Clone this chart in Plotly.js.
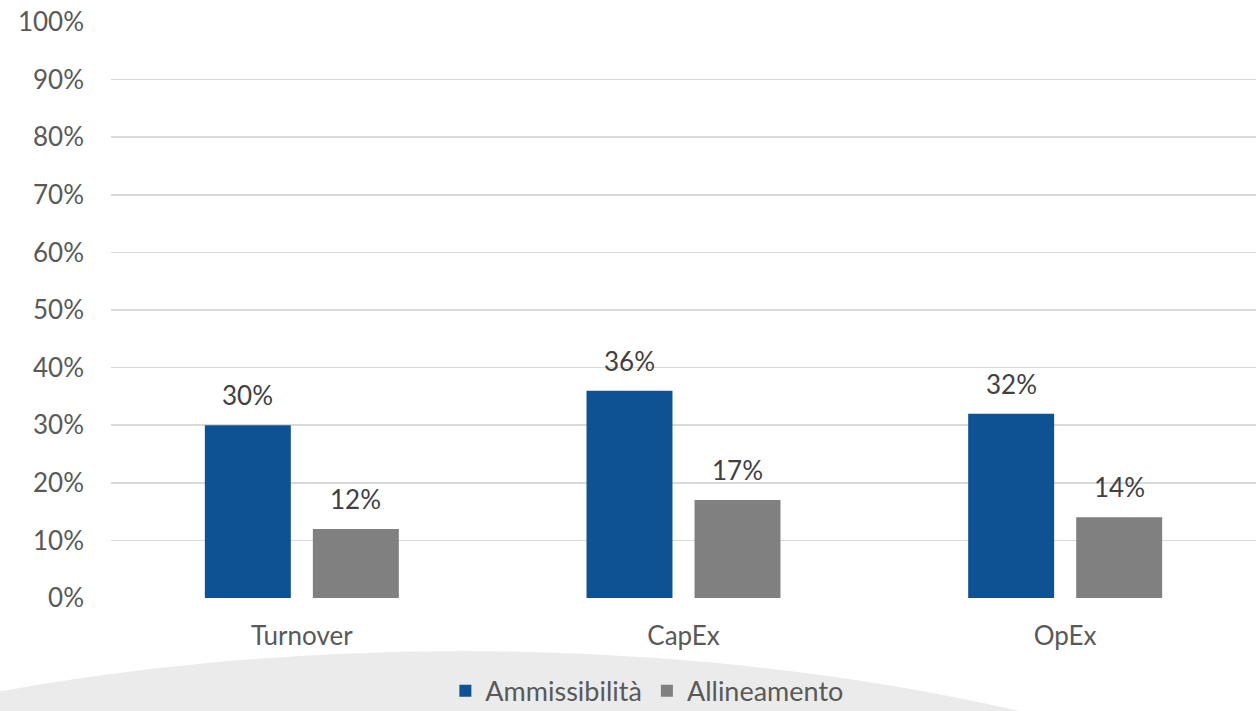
<!DOCTYPE html>
<html><head><meta charset="utf-8">
<script src="https://cdn.plot.ly/plotly-3.0.1.min.js"></script>
<style>html,body{margin:0;padding:0;background:#fff;}#chart{width:1258px;height:711px;}</style>
</head><body><div id="chart"></div>
<script>
const categories = ["Turnover", "CapEx", "OpEx"];
const ammissibilita = [30, 36, 32];
const allineamento = [12, 17, 14];
const seriesNames = ["Ammissibilità", "Allineamento"];
const yTickVals = [0,10,20,30,40,50,60,70,80,90,100];
const yTickText = ["0%","10%","20%","30%","40%","50%","60%","70%","80%","90%","100%"];

const FONT = "Lato, 'Open Sans', sans-serif";
const colors = ["#0F5294", "#808080"];
const seriesVals = [ammissibilita, allineamento];

const traces = seriesVals.map((vals, i) => ({
  type: "bar", name: seriesNames[i], x: categories, y: vals,
  marker: {color: colors[i]}, hoverinfo: "skip"
}));

const annotations = [];
seriesVals.forEach((vals, i) => {
  vals.forEach((v, j) => {
    annotations.push({
      x: categories[j], y: v, xref: "x", yref: "y",
      text: v + "%", showarrow: false, yanchor: "bottom",
      xshift: i === 0 ? -54 : 54, yshift: 12,
      font: {family: FONT, size: 26, color: "#404040"}
    });
  });
});

const layout = {
  width: 1258, height: 711,
  margin: {l: 111, r: 2, t: 22, b: 113, autoexpand: false},
  paper_bgcolor: "#fff", plot_bgcolor: "rgba(0,0,0,0)",
  barmode: "group", bargap: 0.434, bargroupgap: 0.204,
  font: {family: FONT, color: "#595959"},
  xaxis: {
    showgrid: false, zeroline: false, showline: false, ticks: "",
    tickfont: {family: FONT, size: 26, color: "#595959"}, ticklabelstandoff: 20
  },
  yaxis: {
    range: [0, 100], tickvals: yTickVals, ticktext: yTickText,
    showgrid: true, gridcolor: "#d9d9d9", gridwidth: 1.5,
    zeroline: false, showline: false, ticks: "",
    tickfont: {family: FONT, size: 26, color: "#595959"}, ticklabelstandoff: 26
  },
  showlegend: true,
  legend: {
    orientation: "h", x: 0.468, xanchor: "center", y: -0.162, yanchor: "middle",
    font: {family: FONT, size: 27, color: "#595959"}, bgcolor: "rgba(0,0,0,0)",
    itemsizing: "constant", traceorder: "normal", borderwidth: 0
  },
  shapes: [{
    type: "circle", xref: "paper", yref: "paper", layer: "below",
    x0: -0.812, x1: 1.425, y0: -2.175, y1: -0.092,
    fillcolor: "#ebebeb", line: {width: 0}
  }],
  annotations: annotations
};

Plotly.newPlot("chart", traces, layout, {displayModeBar: false, staticPlot: true});
</script></body></html>
